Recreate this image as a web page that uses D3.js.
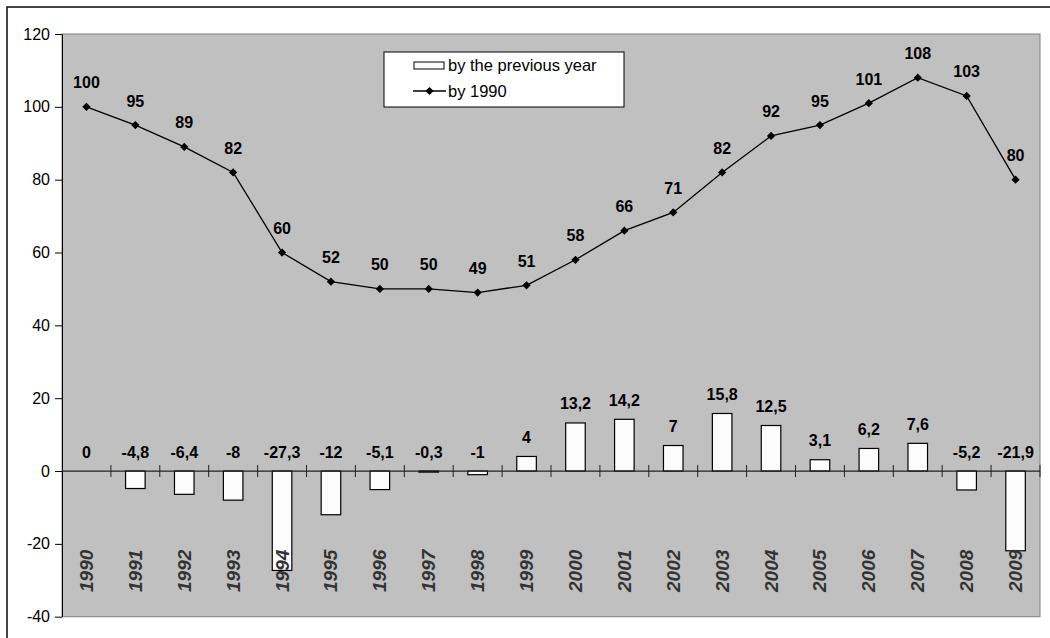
<!DOCTYPE html>
<html>
<head>
<meta charset="utf-8">
<script src="https://cdn.jsdelivr.net/npm/d3@7"></script>
<style>
  html, body { margin: 0; padding: 0; background: #fff; }
  svg { display: block; font-family: "Liberation Sans", Arial, sans-serif; }
</style>
</head>
<body>
<svg id="chart" width="1050" height="638"></svg>
<script>
// Index values and year-on-year changes, 1990-2009
const years = ["1990","1991","1992","1993","1994","1995","1996","1997","1998","1999",
               "2000","2001","2002","2003","2004","2005","2006","2007","2008","2009"];
const byPreviousYear = [0, -4.8, -6.4, -8, -27.3, -12, -5.1, -0.3, -1, 4,
                        13.2, 14.2, 7, 15.8, 12.5, 3.1, 6.2, 7.6, -5.2, -21.9];
const by1990 = [100, 95, 89, 82, 60, 52, 50, 50, 49, 51,
                58, 66, 71, 82, 92, 95, 101, 108, 103, 80];
const yTicks = [-40, -20, 0, 20, 40, 60, 80, 100, 120];
const legendLabels = ["by the previous year", "by 1990"];

const svg = d3.select("#chart");
const fmt = v => String(v).replace(".", ",");

const plot = { left: 62, top: 34, right: 1040, bottom: 616.7 };

const x = d3.scaleBand().domain(years).range([plot.left, plot.right]).padding(0);
const y = d3.scaleLinear().domain([-40, 120]).range([plot.bottom, plot.top]);
const bw = x.bandwidth();
const cx = d => x(d) + bw / 2;

// outer frame
svg.append("rect")
  .attr("x", 7).attr("y", 7).attr("width", 1100).attr("height", 700)
  .attr("fill", "#fff").attr("stroke", "#1a1a1a").attr("stroke-width", 1.6);

// plot area
svg.append("rect")
  .attr("x", plot.left).attr("y", plot.top)
  .attr("width", plot.right - plot.left).attr("height", plot.bottom - plot.top)
  .attr("fill", "#c0c0c0").attr("stroke", "#808080").attr("stroke-width", 1);

// y axis
const yAxis = svg.append("g")
  .attr("transform", `translate(${plot.left},0)`)
  .call(d3.axisLeft(y).tickValues(yTicks).tickFormat(d => String(d))
    .tickSize(7).tickSizeOuter(0).tickPadding(5));
yAxis.select(".domain").attr("stroke", "#000");
yAxis.selectAll(".tick line").attr("stroke", "#000");
yAxis.selectAll(".tick text")
  .attr("fill", "#000").style("font-size", "16px")
  .style("font-family", "'Liberation Sans', Arial, sans-serif");

// bars: change on previous year
svg.append("g").selectAll("rect")
  .data(years.map((yr, i) => ({ yr, v: byPreviousYear[i] })))
  .join("rect")
  .attr("x", d => cx(d.yr) - bw * 0.2)
  .attr("width", bw * 0.4)
  .attr("y", d => y(Math.max(0, d.v)))
  .attr("height", d => Math.abs(y(d.v) - y(0)))
  .attr("fill", "#fcfcfc").attr("stroke", "#000").attr("stroke-width", 1.2);

// zero line with category ticks
const y0 = y(0);
svg.append("line")
  .attr("x1", plot.left).attr("x2", plot.right)
  .attr("y1", y0).attr("y2", y0)
  .attr("stroke", "#222").attr("stroke-width", 1.2);
svg.append("g").selectAll("line")
  .data(years.slice(1).concat(["end"]))
  .join("line")
  .attr("x1", d => d === "end" ? plot.right : x(d))
  .attr("x2", d => d === "end" ? plot.right : x(d))
  .attr("y1", y0 - 6).attr("y2", y0 + 6)
  .attr("stroke", "#222").attr("stroke-width", 1);

// year labels, rotated
svg.append("g").selectAll("text")
  .data(years)
  .join("text")
  .attr("transform", d => `translate(${cx(d) + 6.5},592) rotate(-90)`)
  .attr("text-anchor", "start")
  .attr("fill", "#333")
  .style("font-size", "19px").style("font-weight", "bold").style("font-style", "italic")
  .text(d => d);

// line: index by 1990
const line = d3.line().x((d, i) => cx(years[i])).y(d => y(d));
svg.append("path")
  .datum(by1990)
  .attr("d", line)
  .attr("fill", "none").attr("stroke", "#000").attr("stroke-width", 1.3);

// square markers turned 45 degrees
const marker = d3.symbol().type(d3.symbolSquare).size(34);
svg.append("g").selectAll("path")
  .data(by1990)
  .join("path")
  .attr("transform", (d, i) => `translate(${cx(years[i])},${y(d)}) rotate(45)`)
  .attr("d", marker)
  .attr("fill", "#000");

// value labels on the line
svg.append("g").selectAll("text")
  .data(by1990)
  .join("text")
  .attr("x", (d, i) => cx(years[i]))
  .attr("y", d => y(d) - 18.5)
  .attr("text-anchor", "middle")
  .style("font-size", "16px").style("font-weight", "bold")
  .text(d => fmt(d));

// value labels on the bars
svg.append("g").selectAll("text")
  .data(byPreviousYear)
  .join("text")
  .attr("x", (d, i) => cx(years[i]))
  .attr("y", d => y(Math.max(0, d)) - 13.5)
  .attr("text-anchor", "middle")
  .style("font-size", "16px").style("font-weight", "bold")
  .text(d => fmt(d));

// legend
const lg = svg.append("g");
lg.append("rect")
  .attr("x", 384).attr("y", 52).attr("width", 240).attr("height", 55)
  .attr("fill", "#fff").attr("stroke", "#000").attr("stroke-width", 1);
lg.append("rect")
  .attr("x", 414).attr("y", 62).attr("width", 30).attr("height", 7)
  .attr("fill", "#fcfcfc").attr("stroke", "#000").attr("stroke-width", 1);
lg.append("line")
  .attr("x1", 413).attr("x2", 446).attr("y1", 91).attr("y2", 91)
  .attr("stroke", "#000").attr("stroke-width", 1.3);
lg.append("path")
  .attr("transform", "translate(429.5,91) rotate(45)")
  .attr("d", marker).attr("fill", "#000");
lg.selectAll("text.lbl")
  .data(legendLabels)
  .join("text")
  .attr("class", "lbl")
  .attr("x", 448)
  .attr("y", (d, i) => 71 + i * 26)
  .style("font-size", "16.5px")
  .text(d => d);
</script>
</body>
</html>
